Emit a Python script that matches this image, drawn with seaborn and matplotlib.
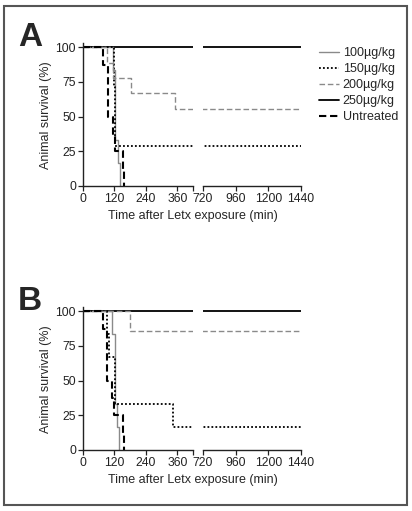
import numpy as np
import pandas as pd
import seaborn as sns
import matplotlib.pyplot as plt
from matplotlib.patches import Rectangle

# step survival curves (time in min, survival in %)
labels = ["100\u00b5g/kg", "150\u00b5g/kg", "200\u00b5g/kg", "250\u00b5g/kg", "Untreated"]

# panel A
a_100_t = [0, 115, 124, 133, 140]
a_100_s = [100, 83.3, 33.3, 16.7, 0]
a_150_t = [0, 118, 122, 1440]
a_150_s = [100, 71.4, 28.6, 28.6]
a_200_t = [0, 91, 114, 185, 350, 1440]
a_200_s = [100, 88.9, 77.8, 66.7, 55.6, 55.6]
a_250_t = [0, 1440]
a_250_s = [100, 100]
a_unt_t = [0, 76, 94, 115, 122, 152, 158]
a_unt_s = [100, 87.5, 50, 37.5, 25, 12.5, 0]

# panel B
b_100_t = [0, 110, 123, 128, 137]
b_100_s = [100, 83.3, 33.3, 16.7, 0]
b_150_t = [0, 90, 100, 122, 345, 1440]
b_150_s = [100, 83.3, 66.7, 33.3, 16.7, 16.7]
b_200_t = [0, 180, 1440]
b_200_s = [100, 85.7, 85.7]
b_250_t = [0, 1440]
b_250_s = [100, 100]
b_unt_t = [0, 77, 92, 110, 120, 154, 158]
b_unt_s = [100, 87.5, 50, 37.5, 25, 12.5, 0]

left_ticks = [0, 120, 240, 360]
right_ticks = [720, 960, 1200, 1440]
y_ticks = [0, 25, 50, 75, 100]

sns.set_style("ticks")
plt.rcParams["font.family"] = ["Liberation Sans", "DejaVu Sans"]
plt.rcParams["font.size"] = 8.5

# style per group: colour, linestyle, linewidth
styles = {
    "100\u00b5g/kg": ("#8a8a8a", "-", 1.0),
    "150\u00b5g/kg": ("black", (0, (1, 1.2)), 1.3),
    "200\u00b5g/kg": ("#8a8a8a", (0, (4, 2)), 1.0),
    "250\u00b5g/kg": ("black", "-", 1.3),
    "Untreated": ("black", (0, (3.5, 1.8)), 1.5),
}

W, H = 412, 511
fig = plt.figure(figsize=(W / 100, H / 100), dpi=100)

# outer frame
fig.patches.append(Rectangle((4 / W, 6 / H), 403 / W, 499 / H, transform=fig.transFigure,
                             fill=False, edgecolor="#555555", linewidth=1.5))


def draw_panel(top_px, curves, letter):
    bottom = 1 - (top_px + 143) / H
    h = 143 / H
    ax_l = fig.add_axes([83 / W, bottom, 110 / W, h])
    ax_r = fig.add_axes([203 / W, bottom, 98 / W, h])
    order = [3, 0, 1, 2, 4]  # 250 drawn first so the others sit on top
    handles = {}
    for i in order:
        t, s = curves[i]
        col, ls, lw = styles[labels[i]]
        for ax in (ax_l, ax_r):
            sns.lineplot(x=t, y=s, ax=ax, drawstyle="steps-post", estimator=None, sort=False,
                         color=col, linestyle=ls, linewidth=lw, legend=False, label=labels[i])
        handles[labels[i]] = ax_l.lines[-1]

    for ax in (ax_l, ax_r):
        ax.set_ylim(0, 103)
        ax.set_xlabel("")
        ax.set_ylabel("")
        sns.despine(ax=ax)
        ax.tick_params(length=3.5, width=0.9, labelsize=8.7, pad=1.5, colors="#222222")
        for sp in ax.spines.values():
            sp.set_linewidth(1.0)
            sp.set_color("#222222")
    ax_l.set_xlim(0, 420)
    ax_l.set_xticks(left_ticks + [420])
    ax_l.set_xticklabels([str(v) for v in left_ticks] + [""])
    ax_l.set_yticks(y_ticks)
    ax_r.set_xlim(720, 1440)
    ax_r.set_xticks(right_ticks)
    ax_r.set_yticks([])
    ax_r.spines["left"].set_visible(False)

    fig.text(30 / W, 1 - (top_px - 6) / H, letter, fontsize=24, fontweight="bold",
             ha="center", va="center")
    fig.text(46 / W, 1 - (top_px + 72) / H, "Animal survival (%)", rotation=90,
             ha="center", va="center", fontsize=9)
    fig.text(193 / W, 1 - (top_px + 173) / H, "Time after Letx exposure (min)",
             ha="center", va="center", fontsize=9)
    return handles


handles_a = draw_panel(43, [(a_100_t, a_100_s), (a_150_t, a_150_s), (a_200_t, a_200_s),
                            (a_250_t, a_250_s), (a_unt_t, a_unt_s)], "A")
draw_panel(307, [(b_100_t, b_100_s), (b_150_t, b_150_s), (b_200_t, b_200_s),
                 (b_250_t, b_250_s), (b_unt_t, b_unt_s)], "B")

fig.legend([handles_a[l] for l in labels], labels, loc="upper left",
           bbox_to_anchor=(314 / W, 1 - 42 / H), frameon=False, fontsize=9,
           handlelength=1.6, handletextpad=0.3, labelspacing=0.33, borderaxespad=0)

fig.savefig("out.png", dpi=100)
